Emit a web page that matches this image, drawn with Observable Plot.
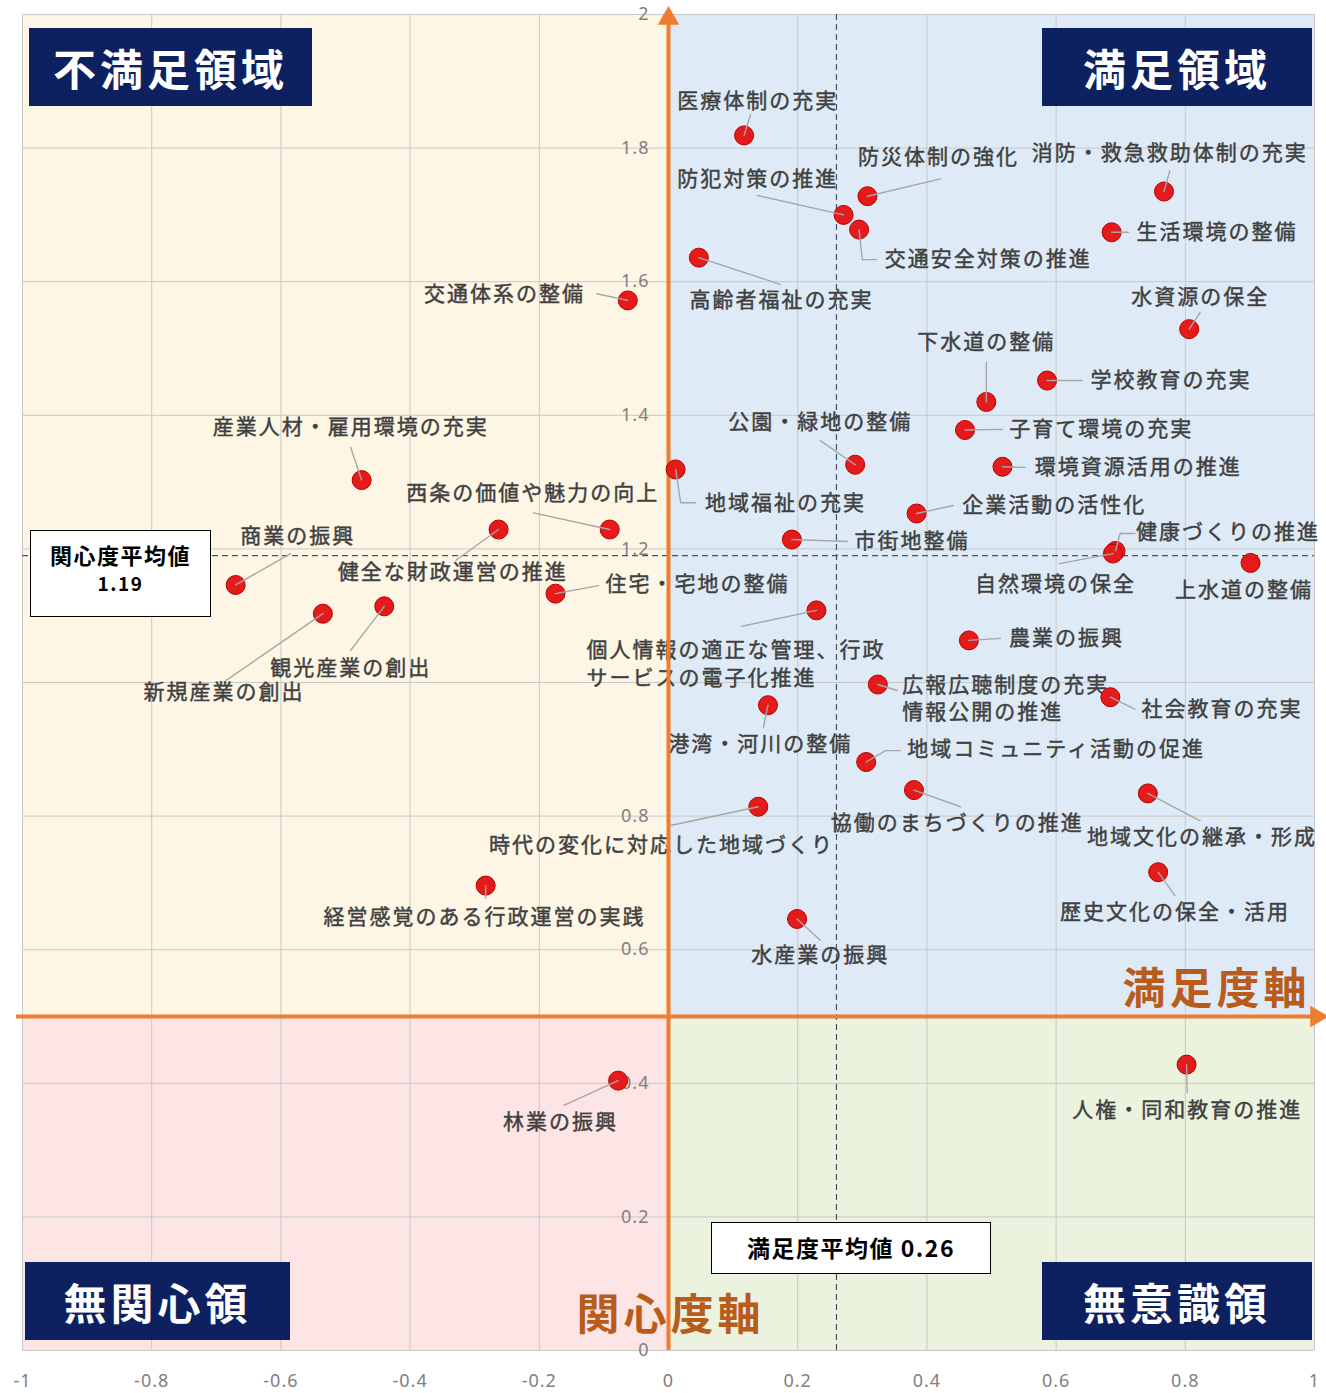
<!DOCTYPE html>
<html>
<head>
<meta charset="utf-8">
<script src="https://cdn.jsdelivr.net/npm/d3@7"></script>
<script src="https://cdn.jsdelivr.net/npm/@observablehq/plot@0.6"></script>
<style>
  body { margin: 0; background: #fff; font-family: "Noto Sans CJK JP", sans-serif; }
  #wrap { position: relative; width: 1326px; height: 1393px; }
  #wrap svg { position: absolute; left: 0; top: 0; }
  .qbox { position: absolute; background: #0d2160; color: #fff; font-weight: 700; font-size: 43px;
          letter-spacing: 4px; display: flex; align-items: center; justify-content: center; line-height: 1; }
  .mbox { position: absolute; background: #fff; border: 1.5px solid #000; box-sizing: border-box;
          font-weight: 700; font-size: 22px; color: #000; display: flex; flex-direction: column;
          align-items: center; justify-content: center; line-height: 1.35; letter-spacing: 1.5px; }
  g[aria-description="labels"] text { letter-spacing: 2px; }
  g[aria-description="ticks"] text { letter-spacing: 1px; }
  g[aria-description="axtitle"] text { letter-spacing: 4px; }
</style>
</head>
<body>
<div id="wrap"></div>
<script>
// ---- data ----
const items = [
  "医療体制の充実", "防災体制の強化", "消防・救急救助体制の充実", "防犯対策の推進",
  "交通安全対策の推進", "生活環境の整備", "高齢者福祉の充実", "水資源の保全",
  "交通体系の整備", "下水道の整備", "学校教育の充実", "子育て環境の充実",
  "公園・緑地の整備", "環境資源活用の推進", "地域福祉の充実", "企業活動の活性化",
  "市街地整備", "健康づくりの推進", "自然環境の保全", "上水道の整備",
  "個人情報の適正な管理、行政\nサービスの電子化推進", "農業の振興",
  "広報広聴制度の充実、\n情報公開の推進", "社会教育の充実", "港湾・河川の整備",
  "地域コミュニティ活動の促進", "協働のまちづくりの推進", "時代の変化に対応した地域づくり",
  "地域文化の継承・形成", "歴史文化の保全・活用", "水産業の振興", "経営感覚のある行政運営の実践",
  "産業人材・雇用環境の充実", "西条の価値や魅力の向上", "商業の振興", "健全な財政運営の推進",
  "住宅・宅地の整備", "観光産業の創出", "新規産業の創出", "林業の振興", "人権・同和教育の推進"
];
// 満足度 (x)
const satisfaction = [
  0.117, 0.308, 0.767, 0.271, 0.295, 0.686, 0.047, 0.806, -0.063, 0.492, 0.586, 0.459,
  0.289, 0.517, 0.011, 0.384, 0.191, 0.692, 0.688, 0.901, 0.229, 0.465, 0.324, 0.684,
  0.154, 0.306, 0.380, 0.139, 0.742, 0.758, 0.199, -0.283, -0.475, -0.091, -0.670, -0.263,
  -0.175, -0.440, -0.535, -0.078, 0.802
];
// 関心度 (y)
const interest = [
  1.819, 1.728, 1.735, 1.700, 1.678, 1.674, 1.636, 1.529, 1.572, 1.420, 1.452, 1.378,
  1.326, 1.323, 1.319, 1.253, 1.214, 1.197, 1.193, 1.179, 1.108, 1.063, 0.997, 0.978,
  0.966, 0.881, 0.839, 0.814, 0.834, 0.716, 0.646, 0.696, 1.303, 1.229, 1.146, 1.229,
  1.133, 1.114, 1.103, 0.404, 0.428
];
// label anchors (data units)
const labelAt = [
  [0.138, 1.870], [0.418, 1.786], [0.776, 1.793], [0.138, 1.754], [0.495, 1.633], [0.849, 1.674],
  [0.175, 1.572], [0.823, 1.576], [-0.254, 1.581], [0.492, 1.509], [0.778, 1.452], [0.670, 1.379],
  [0.235, 1.389], [0.727, 1.322], [0.181, 1.269], [0.597, 1.265], [0.377, 1.211], [0.866, 1.225],
  [0.599, 1.147], [0.891, 1.138], [-0.127, 1.031], [0.616, 1.066], [0.362, 0.979], [0.857, 0.960],
  [0.142, 0.907], [0.600, 0.900], [0.447, 0.790], [-0.011, 0.756], [0.826, 0.768], [0.784, 0.656],
  [0.235, 0.591], [-0.285, 0.648], [-0.492, 1.382], [-0.210, 1.283], [-0.574, 1.219], [-0.334, 1.165],
  [0.045, 1.147], [-0.492, 1.021], [-0.688, 0.985], [-0.167, 0.341], [0.803, 0.359]
];
const labelStart = [20, 22]; // indices of left-aligned, two-line labels
// leader line bend/end points (data units)
const leaders = [
  [[0.127, 1.850]], [[0.421, 1.754]], [[0.776, 1.766]], [[0.138, 1.729]], [[0.300, 1.633], [0.322, 1.633]],
  [[0.712, 1.674]], [[0.173, 1.596]], [[0.823, 1.554]], [[-0.111, 1.582]], [[0.492, 1.479]],
  [[0.640, 1.452]], [[0.517, 1.379]], [[0.235, 1.362]], [[0.552, 1.322]], [[0.019, 1.269], [0.042, 1.269]],
  [[0.441, 1.265]], [[0.277, 1.211]], [[0.699, 1.223], [0.722, 1.223]], [[0.605, 1.178]], [],
  [[0.113, 1.084]], [[0.514, 1.066]], [[0.354, 0.988]], [[0.722, 0.960]], [[0.147, 0.933]],
  [[0.336, 0.898], [0.359, 0.898]], [[0.452, 0.814]], [[0.003, 0.786]], [[0.823, 0.793]], [[0.784, 0.681]],
  [[0.235, 0.614]], [[-0.283, 0.677]], [[-0.492, 1.352]], [[-0.209, 1.254]], [[-0.585, 1.193]],
  [[-0.329, 1.183]], [[-0.108, 1.145]], [[-0.492, 1.048]], [[-0.685, 1.003]], [[-0.162, 0.367]], [[0.803, 0.386]]
];
const xTicks = [-1, -0.8, -0.6, -0.4, -0.2, 0, 0.2, 0.4, 0.6, 0.8, 1];
const yTicks = [0, 0.2, 0.4, 0.6, 0.8, 1, 1.2, 1.4, 1.6, 1.8, 2];
const yTickLabels = [0, 0.2, 0.4, 0.6, 0.8, 1.2, 1.4, 1.6, 1.8, 2]; // "1" is hidden behind a label in the reference
const xDomain = [-1, 1];
const yDomain = [0, 2];
const quadrantX = 0;      // 満足度軸 split
const quadrantY = 0.5;    // 関心度軸 split
const meanSatisfaction = 0.26;
const meanInterest = 1.19;
const quadrantNames = ["不満足領域", "満足領域", "無関心領", "無意識領"];
const axisTitles = ["満足度軸", "関心度軸"];
const quadrantColors = ["#fef6e4", "#deebf7", "#fde5e5", "#ebf3df"];

// ---- build ----
const pts = items.map((name, i) => ({
  name, x: satisfaction[i], y: interest[i], lx: labelAt[i][0], ly: labelAt[i][1],
  start: labelStart.includes(i)
}));
const leaderRows = pts.flatMap((p, i) => leaders[i].length
  ? [{k: i, x: p.x, y: p.y}, ...leaders[i].map(([x, y]) => ({k: i, x, y}))] : []);
const quads = [
  {x1: xDomain[0], x2: quadrantX, y1: quadrantY, y2: yDomain[1], c: quadrantColors[0]},
  {x1: quadrantX, x2: xDomain[1], y1: quadrantY, y2: yDomain[1], c: quadrantColors[1]},
  {x1: xDomain[0], x2: quadrantX, y1: yDomain[0], y2: quadrantY, c: quadrantColors[2]},
  {x1: quadrantX, x2: xDomain[1], y1: yDomain[0], y2: quadrantY, c: quadrantColors[3]}
];
const fmt = d => String(+d.toFixed(1));
const orange = "#ed7d31";
const brown = "#b85c1e";

const chart = Plot.plot({
  width: 1326, height: 1393,
  marginLeft: 22, marginRight: 12, marginTop: 14, marginBottom: 43,
  x: {domain: xDomain, axis: null},
  y: {domain: yDomain, axis: null},
  style: {background: "transparent", fontFamily: "'Noto Sans CJK JP', sans-serif", overflow: "visible"},
  marks: [
    ...quads.map(q => Plot.rect([q], {x1: "x1", x2: "x2", y1: "y1", y2: "y2", fill: q.c})),
    Plot.ruleX(xTicks, {stroke: "#c8c8c8", strokeWidth: 1}),
    Plot.ruleY(yTicks, {stroke: "#c8c8c8", strokeWidth: 1}),
    Plot.ruleX([meanSatisfaction], {stroke: "#44546a", strokeWidth: 1.2, strokeDasharray: "6,4"}),
    Plot.ruleY([meanInterest], {stroke: "#44546a", strokeWidth: 1.2, strokeDasharray: "6,4"}),
    Plot.text(yTickLabels, {x: quadrantX, y: d => d, text: fmt, textAnchor: "end", dx: -19,
      fontSize: 18, fill: "#808080", fontFamily: "'Noto Sans', sans-serif", ariaDescription: "ticks"}),
    Plot.text(xTicks, {x: d => d, frameAnchor: "bottom", dy: 36, text: fmt,
      fontSize: 18, fill: "#808080", fontFamily: "'Noto Sans', sans-serif", ariaDescription: "ticks"}),
    Plot.text([axisTitles[0]], {y: quadrantY, frameAnchor: "right", textAnchor: "end", dx: -4, dy: -26,
      text: d => d, fontSize: 43, fontWeight: "bold", fill: brown, ariaDescription: "axtitle"}),
    Plot.text([axisTitles[1]], {x: quadrantX, frameAnchor: "bottom", dx: 2, dy: -21,
      text: d => d, fontSize: 43, fontWeight: "bold", fill: brown, ariaDescription: "axtitle"}),
    Plot.text(pts.filter(d => !d.start), {x: "lx", y: "ly", text: "name", fontSize: 21,
      fill: "#404040", stroke: "#404040", strokeWidth: 0.45, textAnchor: "middle", ariaDescription: "labels"}),
    Plot.text(pts.filter(d => d.start), {x: "lx", y: "ly", text: "name", fontSize: 21,
      fill: "#404040", stroke: "#404040", strokeWidth: 0.45, textAnchor: "start", lineHeight: 1.32, ariaDescription: "labels"}),
    Plot.ruleX([quadrantX], {y1: yDomain[0], y2: yDomain[1], stroke: orange, strokeWidth: 4}),
    Plot.ruleY([quadrantY], {x1: xDomain[0], x2: xDomain[1], stroke: orange, strokeWidth: 4, insetLeft: -6}),
    Plot.dot([0], {x: quadrantX, y: yDomain[1], symbol: "triangle", r: 8, fill: orange, dy: 4}),
    Plot.dot([0], {x: xDomain[1], y: quadrantY, symbol: "triangle", r: 8, fill: orange, rotate: 90, dx: 2}),
    Plot.dot(pts, {x: "x", y: "y", r: 9.5, fill: "#e51b1b", stroke: "#b80000", strokeWidth: 1}),
    Plot.line(leaderRows, {x: "x", y: "y", z: "k", stroke: "#a6a6a6", strokeWidth: 1.4})
  ]
});

const wrap = document.getElementById("wrap");
wrap.appendChild(chart);

function addDiv(cls, text, css) {
  const d = document.createElement("div");
  d.className = cls;
  d.innerHTML = text;
  Object.assign(d.style, css);
  wrap.appendChild(d);
}
addDiv("qbox", quadrantNames[0], {left: "29px", top: "28px", width: "283px", height: "78px"});
addDiv("qbox", quadrantNames[1], {left: "1042px", top: "28px", width: "270px", height: "78px"});
addDiv("qbox", quadrantNames[2], {left: "25px", top: "1262px", width: "265px", height: "78px"});
addDiv("qbox", quadrantNames[3], {left: "1042px", top: "1262px", width: "270px", height: "78px"});
addDiv("mbox", "<span>関心度平均値</span><span style='font-size:19px'>" + meanInterest + "</span>",
  {left: "30px", top: "530px", width: "181px", height: "87px", paddingBottom: "12px"});
addDiv("mbox", "<span>満足度平均値 " + meanSatisfaction + "</span>",
  {left: "711px", top: "1222px", width: "280px", height: "52px", fontSize: "23px"});
</script>
</body>
</html>
